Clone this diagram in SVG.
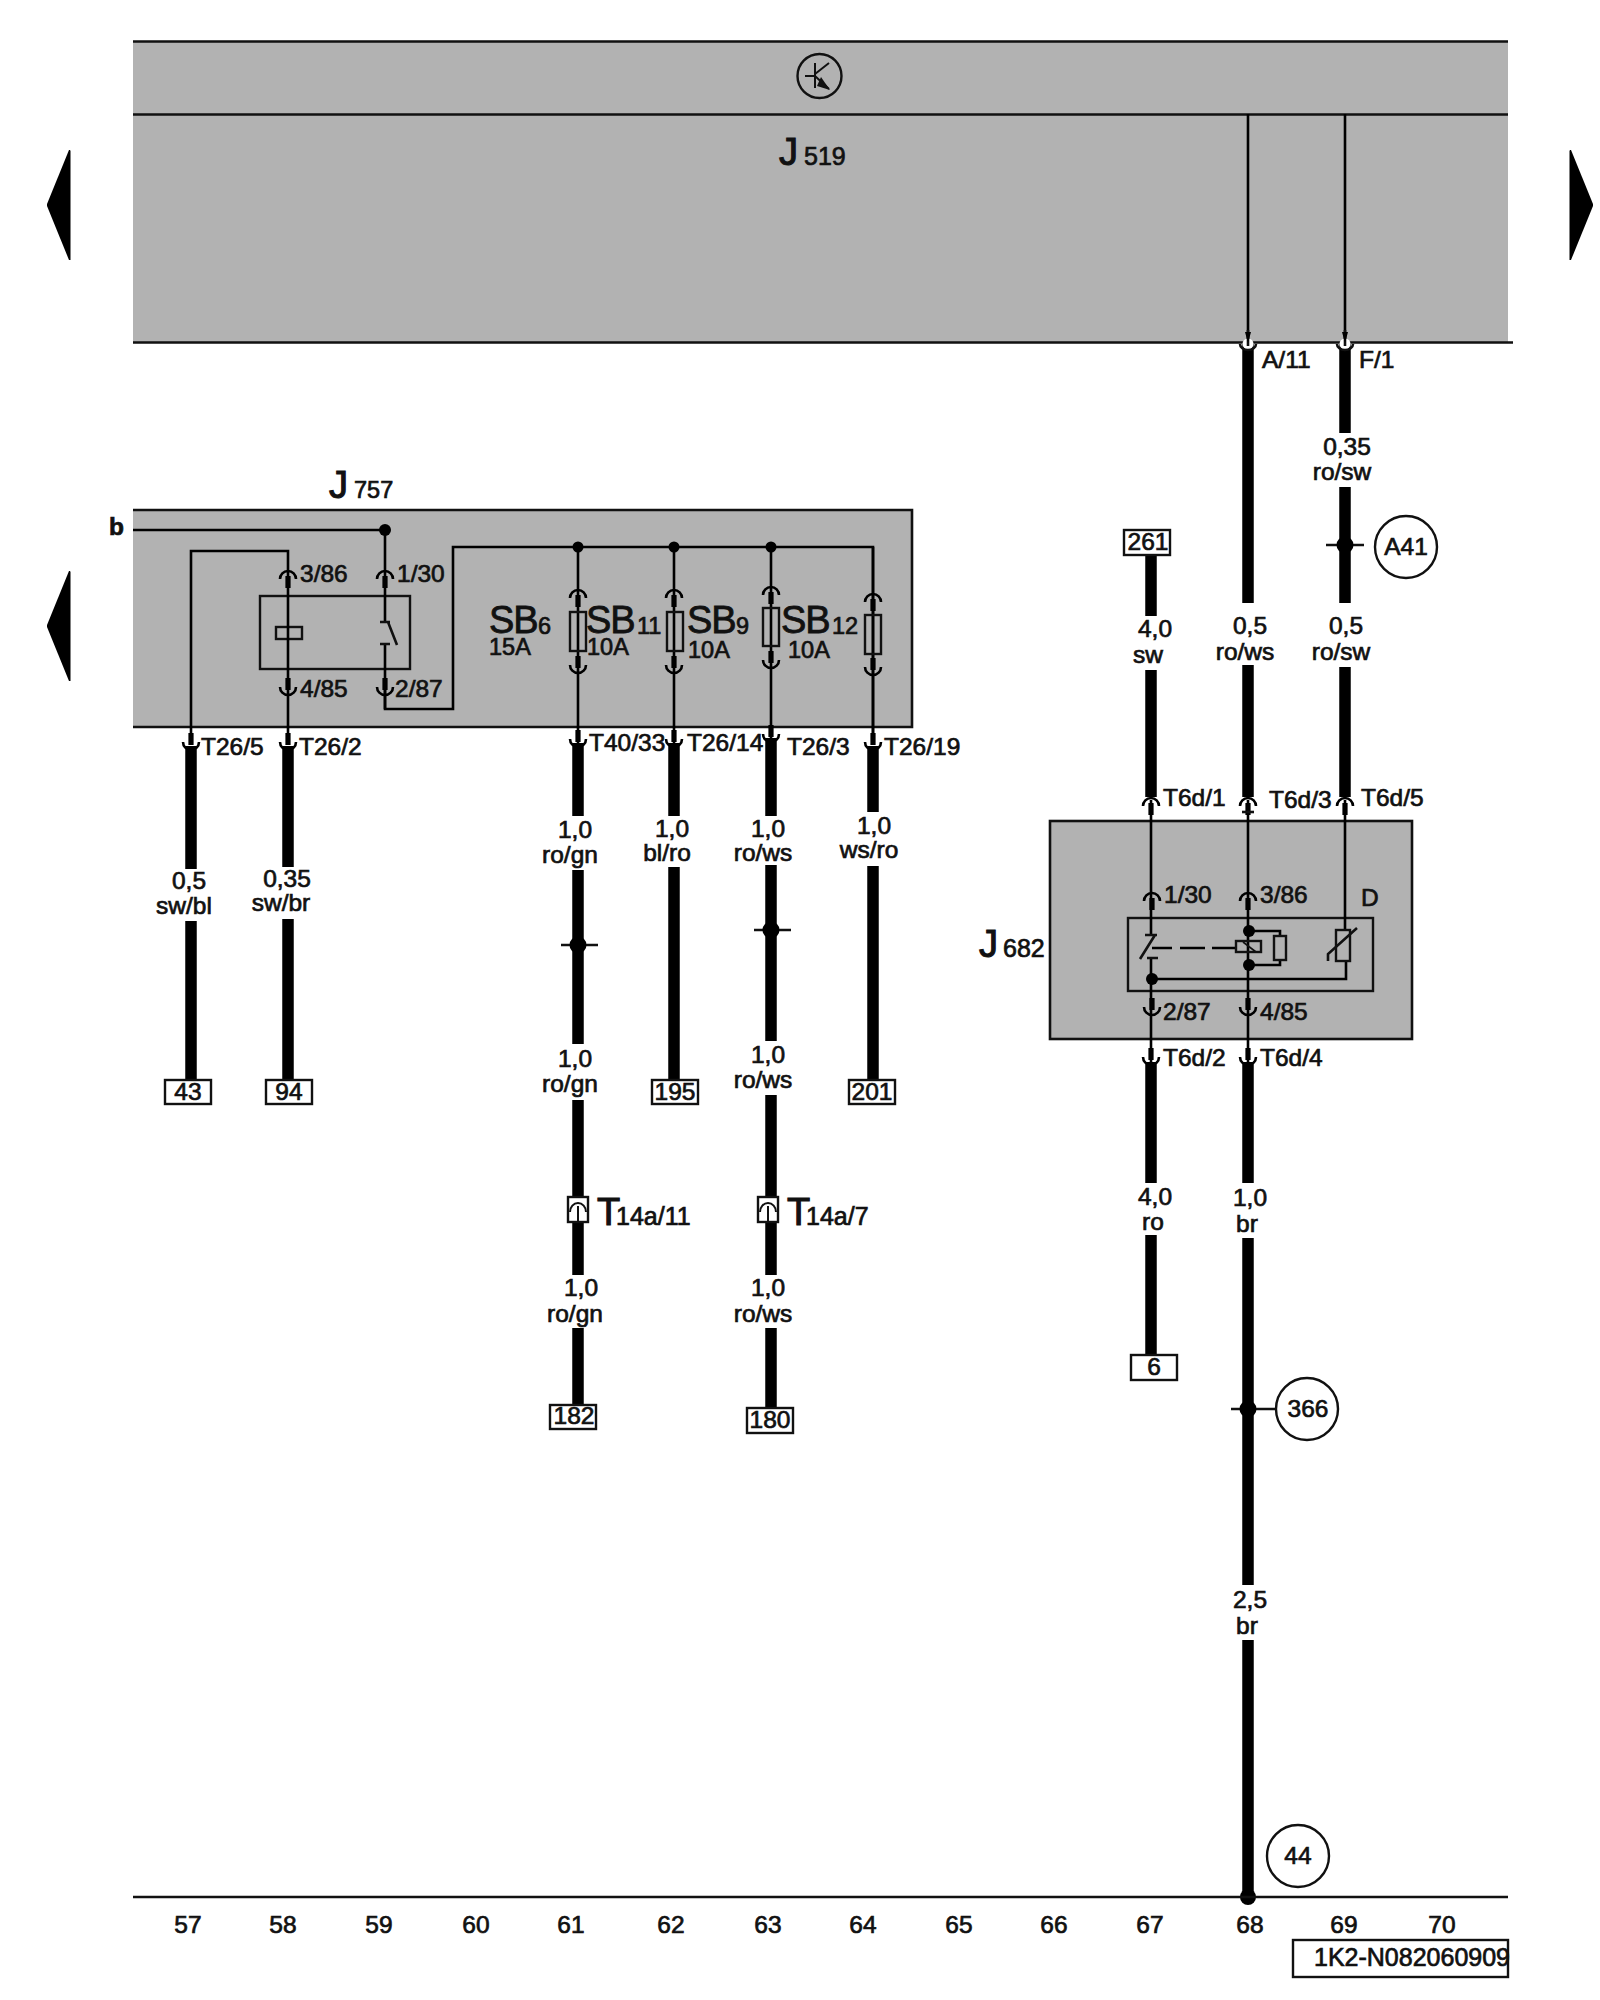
<svg xmlns="http://www.w3.org/2000/svg" xmlns:xlink="http://www.w3.org/1999/xlink" width="1600" height="2000" viewBox="0 0 1600 2000">
<style>
text{font-family:"Liberation Sans",Arial,sans-serif;fill:#111;font-size:24.500px;stroke:#111;stroke-width:.7px}
.m{text-anchor:middle}
.big{font-size:38px;stroke-width:1.1px}
.sb{font-size:38px;letter-spacing:-1px;stroke-width:.8px}
.sub{font-size:23.500px}
.sub2{font-size:25px}
.w{fill:none;stroke:#000;stroke-width:2.6}
.hv{fill:none;stroke:#000;stroke-width:11.5}
.grey{fill:#b2b2b2}
.ln{fill:none;stroke:#111;stroke-width:2.6}
.open{fill:none;stroke:#111;stroke-width:2.4}
.dot{fill:#000}
.cc{fill:#fff;stroke:#111;stroke-width:2.4}
</style>
<defs>
<g id="cap"><path d="M-8,8A8,8 0 0 1 8,8" fill="none" stroke="#000" stroke-width="2.6"/><rect x="-2.6" y="5" width="5.2" height="12" fill="#000"/></g>
<g id="cup"><path d="M-8,-8A8,8 0 0 0 8,-8" fill="none" stroke="#000" stroke-width="2.6"/><rect x="-2.6" y="-17" width="5.2" height="12" fill="#000"/></g>
<path id="arrowL" d="M70,0L70.500,1V110L69,110L47,56V54L69,0Z" fill="#000"/>
</defs>
<rect width="1600" height="2000" fill="#fff"/>

<g id="J519">
<rect class="grey" x="133" y="41" width="1375" height="301"/>
<path class="ln" d="M133,41.500H1508M133,114.500H1508M133,342.500H1513"/>
<g id="transistor"><circle cx="819.500" cy="76" r="22" class="open"/><path class="ln" style="stroke-width:2" d="M805,76H815M815,63V88M815,74L829,63M815,76L829,89"/><path d="M821,77L830,90L817,86Z" fill="#111"/></g>
<text class="big" x="779" y="165">J</text><text class="sub2" x="804" y="165">519</text>
</g>

<g id="page-arrows">
<use xlink:href="#arrowL" href="#arrowL" y="150"/>
<use xlink:href="#arrowL" href="#arrowL" y="571"/>
<use xlink:href="#arrowL" href="#arrowL" transform="translate(1640,150) scale(-1,1)"/>
</g>

<g id="J757">
<rect class="grey" x="133" y="509" width="779" height="218"/>
<path class="ln" d="M133,510H912V727H133"/>
<rect class="open" x="260" y="596" width="150" height="73"/>
<rect class="open" x="276" y="627" width="26" height="12"/>
<text class="big" x="329" y="498">J</text><text class="sub" x="354" y="498">757</text>
<text x="109" y="535" style="font-weight:bold">b</text>
<text x="300" y="582">3/86</text><text x="397" y="582">1/30</text>
<text x="300" y="697">4/85</text><text x="395" y="697">2/87</text>
<text class="sb" x="489" y="633">SB</text><text class="sub" x="538" y="634">6</text><text class="sub" x="489" y="655">15A</text>
<text class="sb" x="586" y="633">SB</text><text class="sub" x="637" y="634">11</text><text class="sub" x="587" y="655">10A</text>
<text class="sb" x="687" y="633">SB</text><text class="sub" x="736" y="634">9</text><text class="sub" x="688" y="658">10A</text>
<text class="sb" x="781" y="633">SB</text><text class="sub" x="832" y="634">12</text><text class="sub" x="788" y="658">10A</text>
<text x="201" y="755">T26/5</text><text x="299" y="755">T26/2</text>
<text x="589" y="751">T40/33</text><text x="687" y="751">T26/14</text>
<text x="787" y="755">T26/3</text><text x="884" y="755">T26/19</text>
</g>

<g id="J682">
<rect class="grey" x="1050" y="821" width="362" height="218"/>
<rect class="ln" x="1050" y="821" width="362" height="218"/>
<rect class="open" x="1128" y="918" width="245" height="73"/>
<text class="big" x="979" y="957">J</text><text class="sub2" x="1003" y="957">682</text>
<text x="1164" y="903">1/30</text><text x="1260" y="903">3/86</text><text x="1361" y="906">D</text>
<text x="1163" y="1020">2/87</text><text x="1260" y="1020">4/85</text>
<text x="1163" y="806">T6d/1</text><text x="1269" y="808">T6d/3</text><text x="1361" y="806">T6d/5</text>
<text x="1163" y="1066">T6d/2</text><text x="1260" y="1066">T6d/4</text>
</g>

<g id="connectors">
<path class="hv" d="M191,746V869M191,921V1081M288,746V867M288,919V1081"/>
<path class="hv" d="M578,743V816M578,870V1044M578,1100V1275M578,1328V1405"/>
<path class="hv" d="M674,743V816M674,867V1081"/>
<path class="hv" d="M771,738V816M771,865V1041M771,1095V1275M771,1328V1408"/>
<path class="hv" d="M873,746V812M873,866V1081"/>
<path class="hv" d="M1248,344V603M1248,665V797M1345,344V433M1345,487V603M1345,667V797"/>
<path class="hv" d="M1151,555V616M1151,670V797M1151,1062V1183M1151,1235V1355"/>
<path class="hv" d="M1248,1062V1183M1248,1238V1585M1248,1640V1897"/>
<path class="w" d="M1248,114V342M1345,114V342"/>
<path class="w" d="M133,530H385V622M385,644V709"/>
<path class="w" d="M288,745V551H191V745"/>
<path class="w" d="M385,690V709H453V547H873V745"/>
<path class="w" d="M578,547V745M674,547V745M771,547V742M873,547V745"/>
<path class="w" d="M1151,800V935M1151,958V1062M1248,800V1062M1345,800V930"/>
<path class="w" d="M1152,979H1346V961"/>
<path class="w" d="M1249,931H1280V936M1280,960V965H1249"/>
<path class="w" d="M1152,948H1172M1180,948H1205M1212,948H1236"/>
</g>

<g id="pins">
<use href="#cap" x="288" y="571"/><use href="#cap" x="385" y="571"/>
<use href="#cup" x="288" y="695"/><use href="#cup" x="385" y="695"/>
<use href="#cup" x="191" y="750"/><use href="#cup" x="288" y="750"/>
<use href="#cap" x="578" y="590"/><use href="#cap" x="674" y="590"/><use href="#cap" x="771" y="587"/><use href="#cap" x="873" y="594"/>
<use href="#cup" x="578" y="673"/><use href="#cup" x="674" y="673"/><use href="#cup" x="771" y="668"/><use href="#cup" x="873" y="675"/>
<use href="#cup" x="578" y="747"/><use href="#cup" x="674" y="747"/><use href="#cup" x="771" y="742"/><use href="#cup" x="873" y="750"/>
<use href="#cap" x="1151" y="798"/><use href="#cap" x="1248" y="798"/><use href="#cap" x="1345" y="798"/>
<use href="#cap" x="1152" y="893"/><use href="#cap" x="1248" y="893"/>
<use href="#cup" x="1152" y="1015"/><use href="#cup" x="1248" y="1015"/>
<use href="#cup" x="1151" y="1065"/><use href="#cup" x="1248" y="1065"/>
<circle cx="1248" cy="344" r="5.500" fill="#fff"/><circle cx="1345" cy="344" r="5.500" fill="#fff"/>
<path class="ln" d="M1240,344A8,6 0 0 0 1256,344M1337,344A8,6 0 0 0 1353,344"/>
<path class="ln" d="M1248,330V346M1345,330V346"/>
<path d="M1245,332H1251L1248,343ZM1342,332H1348L1345,343Z" fill="#000"/>
<path class="ln" d="M1242,812H1254"/>
</g>

<g id="relay-J757">
<path class="ln" d="M380,622H390M380,644H390M388,622L397,645"/>
<circle class="dot" cx="385" cy="530" r="6"/>
</g>

<g id="fuses">
<rect class="open" x="570" y="612" width="16" height="39"/>
<rect class="open" x="667" y="612" width="16" height="39"/>
<rect class="open" x="763" y="608" width="16" height="38"/>
<rect class="open" x="865" y="615" width="16" height="39"/>
<circle class="dot" cx="578" cy="547" r="5.500"/><circle class="dot" cx="674" cy="547" r="5.500"/><circle class="dot" cx="771" cy="547" r="5.500"/>
</g>

<g id="relay-J682">
<path class="ln" d="M1145,935H1157M1155,935L1140,959M1147,958H1158"/>
<rect class="open" x="1236" y="941" width="25" height="11"/>
<path class="ln" style="stroke-width:1.6" d="M1243,942L1256,952"/>
<rect class="open" x="1274" y="936" width="12" height="24"/>
<circle class="dot" cx="1249" cy="931" r="6"/><circle class="dot" cx="1249" cy="965" r="6"/><circle class="dot" cx="1152" cy="979" r="6"/>
<rect class="open" x="1336" y="930" width="14" height="31"/>
<path class="ln" d="M1328,961V954L1357,928"/>
</g>

<g id="splices">
<g id="S1"><path class="ln" d="M561,945H598"/><circle class="dot" cx="578" cy="945" r="8.500"/></g>
<g id="S2"><path class="ln" d="M754,930H791"/><circle class="dot" cx="771" cy="930" r="8.500"/></g>
<g id="A41"><path class="ln" d="M1326,545H1364"/><circle class="dot" cx="1345" cy="545" r="8.500"/><circle class="cc" cx="1406" cy="547" r="31"/><text class="m" x="1406" y="555">A41</text></g>
<g id="N366"><path class="ln" d="M1231,1409H1276"/><circle class="dot" cx="1248" cy="1409" r="8.500"/><circle class="cc" cx="1307" cy="1409" r="31"/><text class="m" x="1308" y="1417">366</text></g>
<g id="N44"><circle class="dot" cx="1248" cy="1897" r="8"/><circle class="cc" cx="1298" cy="1856" r="31"/><text class="m" x="1298" y="1864">44</text></g>
</g>

<g id="T14a-11"><rect class="cc" x="568" y="1197" width="20" height="25"/><path class="ln" d="M570,1212A8,9 0 0 1 586,1212M578,1206V1222" style="stroke-width:2"/><text class="big" x="597" y="1225">T</text><text class="sub2" x="616" y="1225">14a/11</text></g>
<g id="T14a-7"><rect class="cc" x="758" y="1197" width="20" height="25"/><path class="ln" d="M760,1212A8,9 0 0 1 776,1212M768,1206V1222" style="stroke-width:2"/><text class="big" x="787" y="1225">T</text><text class="sub2" x="806" y="1225">14a/7</text></g>

<g id="terminals">
<g id="t43"><rect class="cc" x="165" y="1080" width="46" height="24"/><text class="m" x="188" y="1100">43</text></g>
<g id="t94"><rect class="cc" x="266" y="1080" width="46" height="24"/><text class="m" x="289" y="1100">94</text></g>
<g id="t195"><rect class="cc" x="652" y="1080" width="46" height="24"/><text class="m" x="675" y="1100">195</text></g>
<g id="t201"><rect class="cc" x="849" y="1080" width="46" height="24"/><text class="m" x="872" y="1100">201</text></g>
<g id="t182"><rect class="cc" x="550" y="1405" width="46" height="24"/><text class="m" x="574" y="1424">182</text></g>
<g id="t180"><rect class="cc" x="747" y="1408" width="46" height="25"/><text class="m" x="770" y="1428">180</text></g>
<g id="t261"><rect class="cc" x="1124" y="530" width="46" height="25"/><text class="m" x="1148" y="550">261</text></g>
<g id="t6"><rect class="cc" x="1131" y="1355" width="46" height="25"/><text class="m" x="1154" y="1375">6</text></g>
</g>

<g id="wire-labels">
<text class="m" x="189" y="889">0,5</text><text class="m" x="184" y="914">sw/bl</text>
<text class="m" x="287" y="887">0,35</text><text class="m" x="281" y="911">sw/br</text>
<text class="m" x="575" y="838">1,0</text><text class="m" x="570" y="863">ro/gn</text>
<text class="m" x="575" y="1067">1,0</text><text class="m" x="570" y="1092">ro/gn</text>
<text class="m" x="581" y="1296">1,0</text><text class="m" x="575" y="1322">ro/gn</text>
<text class="m" x="672" y="837">1,0</text><text class="m" x="667" y="861">bl/ro</text>
<text class="m" x="768" y="837">1,0</text><text class="m" x="763" y="861">ro/ws</text>
<text class="m" x="768" y="1063">1,0</text><text class="m" x="763" y="1088">ro/ws</text>
<text class="m" x="768" y="1296">1,0</text><text class="m" x="763" y="1322">ro/ws</text>
<text class="m" x="874" y="834">1,0</text><text class="m" x="869" y="858">ws/ro</text>
<text x="1262" y="368">A/11</text><text x="1359" y="368">F/1</text>
<text class="m" x="1347" y="455">0,35</text><text class="m" x="1342" y="480">ro/sw</text>
<text class="m" x="1250" y="634">0,5</text><text class="m" x="1245" y="660">ro/ws</text>
<text class="m" x="1346" y="634">0,5</text><text class="m" x="1341" y="660">ro/sw</text>
<text class="m" x="1155" y="637">4,0</text><text class="m" x="1148" y="663">sw</text>
<text class="m" x="1155" y="1205">4,0</text><text class="m" x="1153" y="1230">ro</text>
<text class="m" x="1250" y="1206">1,0</text><text class="m" x="1247" y="1232">br</text>
<text class="m" x="1250" y="1608">2,5</text><text class="m" x="1247" y="1634">br</text>
</g>

<g id="footer">
<path class="ln" d="M133,1897H1508"/>
<text class="m" x="188" y="1933">57</text><text class="m" x="283" y="1933">58</text><text class="m" x="379" y="1933">59</text><text class="m" x="476" y="1933">60</text><text class="m" x="571" y="1933">61</text><text class="m" x="671" y="1933">62</text><text class="m" x="768" y="1933">63</text><text class="m" x="863" y="1933">64</text><text class="m" x="959" y="1933">65</text><text class="m" x="1054" y="1933">66</text><text class="m" x="1150" y="1933">67</text><text class="m" x="1250" y="1933">68</text><text class="m" x="1344" y="1933">69</text><text class="m" x="1442" y="1933">70</text>
<rect class="open" x="1293" y="1940" width="215" height="37"/>
<text x="1314" y="1966" style="font-size:25px">1K2-N082060909</text>
</g>
</svg>
